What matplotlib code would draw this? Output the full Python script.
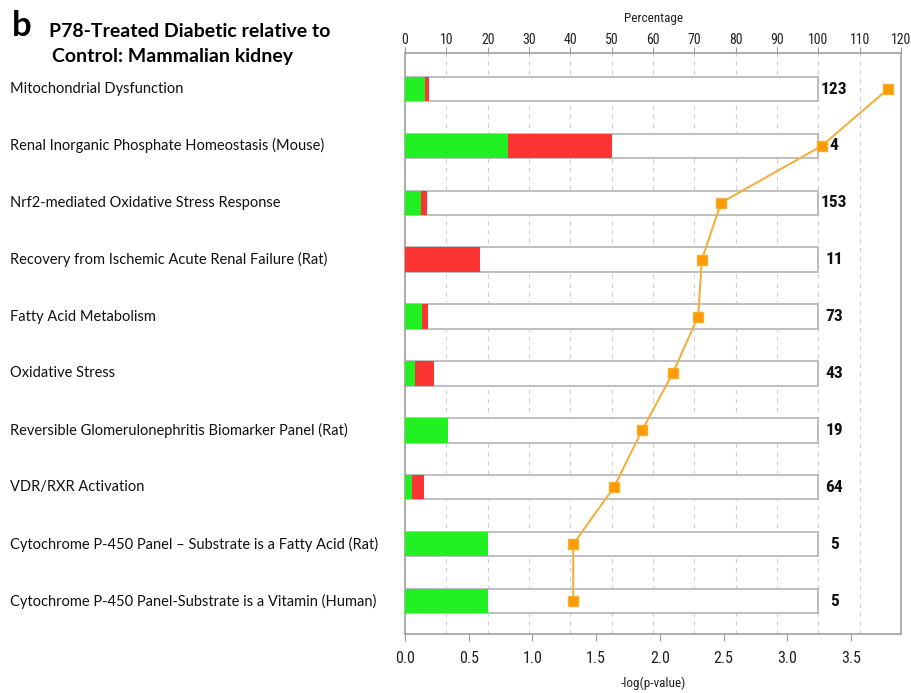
import matplotlib
matplotlib.use("Agg")
import matplotlib.pyplot as plt
from matplotlib import font_manager

# pathways, top to bottom
pathways = [
    "Mitochondrial Dysfunction",
    "Renal Inorganic Phosphate Homeostasis (Mouse)",
    "Nrf2-mediated Oxidative Stress Response",
    "Recovery from Ischemic Acute Renal Failure (Rat)",
    "Fatty Acid Metabolism",
    "Oxidative Stress",
    "Reversible Glomerulonephritis Biomarker Panel (Rat)",
    "VDR/RXR Activation",
    "Cytochrome P-450 Panel \u2013 Substrate is a Fatty Acid (Rat)",
    "Cytochrome P-450 Panel-Substrate is a Vitamin (Human)",
]
n_molecules = [123, 4, 153, 11, 73, 43, 19, 64, 5, 5]
pct_down = [4.9, 25.0, 3.9, 0.0, 4.1, 2.3, 10.5, 1.6, 20.0, 20.0]
pct_up = [0.8, 25.0, 1.3, 18.2, 1.4, 4.7, 0.0, 3.1, 0.0, 0.0]
neg_log_p = [3.79, 3.27, 2.48, 2.33, 2.30, 2.10, 1.86, 1.64, 1.32, 1.32]

pct_ticks = list(range(0, 121, 10))
p_ticks = [0.0, 0.5, 1.0, 1.5, 2.0, 2.5, 3.0, 3.5]

installed = {f.name for f in font_manager.fontManager.ttflist}
narrow = "DejaVu Sans"
for cand in ["Liberation Sans Narrow", "Roboto Condensed", "Roboto"]:
    if cand in installed:
        narrow = cand
        break
body = "Lato" if "Lato" in installed else "DejaVu Sans"

fig = plt.figure(figsize=(9.12, 6.93), dpi=100)
ax = fig.add_axes([0.4441, 0.0851, 0.5439, 0.8384])
ax2 = ax.twiny()

rows = list(range(len(pathways)))
bar_h = 0.43
ax.barh(rows, [100] * len(rows), height=bar_h, color="white",
        edgecolor="#b4b4b4", linewidth=1.2, zorder=2)
ax.barh(rows, pct_down, height=bar_h, color="#22f022", linewidth=0, zorder=3)
ax.barh(rows, pct_up, left=pct_down, height=bar_h, color="#fc3434", linewidth=0, zorder=3)

for r, n in zip(rows, n_molecules):
    ax.text(103.8, r, str(n), ha="center", va="center", fontsize=12.5,
            fontweight="bold", family=narrow, color="#111111", zorder=5)

# percentage axis on top
ax.set_xlim(0, 120)
ax.set_ylim(9.58, -0.633)
ax.set_yticks([])
ax.xaxis.tick_top()
ax.xaxis.set_label_position("top")
ax.set_xticks(pct_ticks)
ax.set_xticklabels([str(t) for t in pct_ticks], family=narrow, fontsize=10, color="#222222")
ax.set_xlabel("Percentage", family=narrow, fontsize=9.5, color="#222222", labelpad=8)
ax.tick_params(axis="x", direction="out", length=4, color="#9a9a9a", pad=0.5)
ax.grid(axis="x", color="#cfcfcf", linestyle=(0, (4, 4)), linewidth=0.8, zorder=0)
ax.set_axisbelow(True)
for s in ax.spines.values():
    s.set_color("#a0a0a0")
    s.set_linewidth(1.2)

# significance line on the bottom axis
ax2.plot(neg_log_p, rows, color="#f2b040", linewidth=1.5, marker="s",
         markersize=7.5, markerfacecolor="#ff9a00", markeredgecolor="#f5b030", zorder=6)
ax2.set_xlim(0, 3.893)
ax2.set_ylim(9.58, -0.633)
ax2.xaxis.tick_bottom()
ax2.xaxis.set_label_position("bottom")
ax2.set_xticks(p_ticks)
ax2.set_xticklabels([f"{t:.1f}" for t in p_ticks], family=narrow, fontsize=11.5, color="#222222")
ax2.set_xlabel("-log(p-value)", family=narrow, fontsize=9.5, color="#222222", labelpad=8)
ax2.tick_params(axis="x", direction="out", length=5, color="#9a9a9a", pad=7)
for s in ax2.spines.values():
    s.set_visible(False)

# pathway names on the left
for r, name in zip(rows, pathways):
    y = ax.transData.transform((0, r))[1]
    yf = fig.transFigure.inverted().transform((0, y))[1]
    fig.text(0.011, yf, name, ha="left", va="center", fontsize=10.5,
             family=body, color="#111111")

fig.text(0.013, 0.962, "b", fontsize=25, fontweight="bold", family=body,
         va="center", ha="left", color="black")
fig.text(0.054, 0.955, "P78-Treated Diabetic relative to", fontsize=14,
         fontweight="bold", family=body, va="center", ha="left")
fig.text(0.057, 0.918, "Control: Mammalian kidney", fontsize=14,
         fontweight="bold", family=body, va="center", ha="left")

fig.savefig("out.png", dpi=100)
